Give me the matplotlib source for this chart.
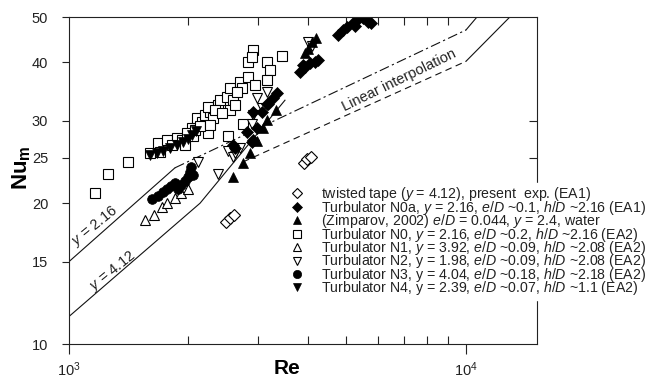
import matplotlib
matplotlib.use("Agg")
import matplotlib.pyplot as plt
import numpy as np
from matplotlib.ticker import FixedLocator, NullLocator, NullFormatter

plt.rcParams['font.family'] = ['Liberation Sans', 'DejaVu Sans']
plt.rcParams['mathtext.fontset'] = 'custom'
plt.rcParams['mathtext.rm'] = 'Liberation Sans'
plt.rcParams['mathtext.it'] = 'Liberation Sans:italic'
plt.rcParams['mathtext.bf'] = 'Liberation Sans:bold'

# twisted tape (open diamond)
tt_re = [2480, 2540, 2600, 3900, 3980, 4060]
tt_nu = [18.2, 18.6, 18.9, 24.4, 24.8, 25.1]

# Turbulator N0a (filled diamond)
n0a_re = [2590, 2621, 2810, 2890, 2908, 2970, 2908, 3060, 3150, 3170, 3260, 3350,
          3822, 3930, 4050, 4160, 4230, 3880,
          4760, 4900, 5030, 5180, 5330, 5500, 5650, 5780, 5250]
n0a_nu = [26.6, 26.3, 28.4, 27.0, 27.3, 29.0, 31.3, 31.3, 32.6, 32.6, 33.5, 34.4,
          38.1, 39.0, 39.8, 40.0, 40.5, 39.5,
          45.7, 46.9, 47.6, 48.5, 49.3, 49.7, 48.8, 48.5, 47.8]

# Zimparov 2002 (filled up-triangle)
zim_re = [2590, 2747, 2859, 2970, 3075, 3150, 3330, 3930, 4000, 4090, 4200]
zim_nu = [22.8, 24.4, 25.6, 27.1, 28.9, 30.1, 31.6, 41.9, 42.8, 44.2, 45.0]

# Turbulator N0 (open square)
n0_re = [1163, 1254, 1410, 1677, 1600, 1766, 1871, 2040, 2053, 2096, 2160, 2240,
         2200, 2267, 2307, 2240, 2375, 2402, 2500, 2546, 2590, 2546, 2698, 2730,
         2826, 2940, 2826, 2908, 2890, 3150, 3211, 3150, 3440, 2517, 2747,
         1696, 1815, 1924, 1982, 2077, 2139, 1962, 2267, 2334, 2430, 2621, 2652]
n0_nu = [21.0, 23.1, 24.5, 26.9, 25.6, 27.3, 27.5, 29.0, 27.9, 30.4, 29.8, 28.2,
         30.9, 31.3, 30.4, 32.1, 32.4, 33.2, 33.7, 35.2, 33.2, 31.6, 36.3, 35.2,
         37.2, 35.8, 40.0, 42.5, 41.1, 40.0, 38.5, 36.7, 41.2, 27.9, 29.6,
         25.7, 26.6, 27.3, 28.2, 28.6, 29.2, 26.6, 29.4, 31.6, 31.2, 32.4, 34.5]

# Turbulator N1 (open up-triangle)
n1_re = [1555, 1640, 1715, 1770, 1850, 1920, 1990]
n1_nu = [18.4, 18.9, 19.6, 20.0, 20.5, 21.0, 21.4]

# Turbulator N2 (open down-triangle)
n2_re = [2118, 2375, 2517, 2590, 2698, 2620, 2908, 2970, 3150, 3060, 2890, 4000, 4100]
n2_nu = [24.5, 23.1, 25.9, 25.1, 26.3, 25.6, 30.8, 33.5, 34.6, 32.0, 29.5, 44.3, 43.4]

# Turbulator N3 (filled circle)
n3_re = [1618, 1677, 1725, 1766, 1808, 1850, 1883, 1915, 1962, 1995, 2018, 2030, 2053]
n3_nu = [20.4, 20.7, 21.1, 21.4, 21.8, 22.1, 21.4, 21.9, 22.3, 22.7, 23.3, 23.9, 23.0]

# Turbulator N4 (filled down-triangle)
n4_re = [1600, 1665, 1725, 1797, 1871, 1937, 1995, 2040, 2087]
n4_nu = [25.3, 25.6, 25.9, 26.3, 26.6, 27.0, 27.4, 28.0, 28.5]

# correlation lines
up_re = [1000, 1849, 10000, 10660]      # y = 2.16
up_nu = [15.0, 23.8, 46.9, 50.0]
lo_re = [1000, 2139, 3500]              # y = 4.12
lo_nu = [11.45, 20.0, 33.2]
lo_int_re = [2743, 10000, 12900]
lo_int_nu = [24.5, 40.2, 50.0]

fig = plt.figure(figsize=(6.51, 3.79), dpi=100)
ax = fig.add_axes([69/651, 1-344/379, (537-69)/651, (344-17)/379])
ax.set_xscale('log')
ax.set_yscale('log')
ax.set_xlim(1000, 15100)
ax.set_ylim(10, 50)

lc = '#111111'
ax.plot(up_re[:2], up_nu[:2], color=lc, lw=0.8)
ax.plot(up_re[1:3], up_nu[1:3], color=lc, lw=0.8, ls=(0, (9, 3, 2, 3)))
ax.plot(up_re[2:], up_nu[2:], color=lc, lw=0.8)
ax.plot(lo_re, lo_nu, color=lc, lw=0.8)
ax.plot(lo_int_re[:2], lo_int_nu[:2], color=lc, lw=0.8, ls=(0, (6, 4)))
ax.plot(lo_int_re[1:], lo_int_nu[1:], color=lc, lw=0.8)

ms = 6.5
kw_open = dict(ls='none', mfc='white', mec='black', mew=0.8)
kw_fill = dict(ls='none', mfc='black', mec='black', mew=0.5)
h_n0, = ax.plot(n0_re, n0_nu, 's', ms=ms, **kw_open)
h_n1, = ax.plot(n1_re, n1_nu, '^', ms=ms, **kw_open)
h_n2, = ax.plot(n2_re, n2_nu, 'v', ms=ms, **kw_open)
h_n4, = ax.plot(n4_re, n4_nu, 'v', ms=ms, **kw_fill)
h_n3, = ax.plot(n3_re, n3_nu, 'o', ms=ms + 0.5, **kw_fill)
h_tt, = ax.plot(tt_re, tt_nu, 'D', ms=ms - 0.5, **kw_open)
h_zim, = ax.plot(zim_re, zim_nu, '^', ms=ms + 0.5, **kw_fill)
h_n0a, = ax.plot(n0a_re, n0a_nu, 'D', ms=ms - 0.5, **kw_fill)

ax.text(1163, 17.9, '$y$ = 2.16', rotation=39, ha='center', va='center',
        rotation_mode='anchor', fontsize=10.5, color='#222222')
ax.text(1291, 14.3, '$y$ = 4.12', rotation=39, ha='center', va='center',
        rotation_mode='anchor', fontsize=10.5, color='#222222')
ax.text(6787, 36.7, 'Linear interpolation', rotation=26, ha='center', va='center',
        rotation_mode='anchor', fontsize=10.5, color='#222222')

# ticks
ax.xaxis.set_major_locator(FixedLocator([1e3, 1e4]))
ax.set_xticklabels(['$10^3$', '$10^4$'])
ax.xaxis.set_minor_locator(FixedLocator([2e3, 3e3, 4e3, 5e3, 6e3, 7e3, 8e3, 9e3]))
ax.xaxis.set_minor_formatter(NullFormatter())
ax.tick_params(axis='x', which='major', direction='out', length=7, width=0.8,
               pad=5, labelsize=10.5, bottom=True, top=False, colors='#222222')
ax.tick_params(axis='x', which='minor', direction='in', length=6, width=0.8,
               bottom=True, top=True, color='#222222')

yt = [10, 15, 20, 25, 30, 40, 50]
ax.yaxis.set_major_locator(FixedLocator(yt))
ax.set_yticklabels([str(v) for v in yt])
ax.yaxis.set_minor_locator(NullLocator())
ax.tick_params(axis='y', which='major', direction='out', length=5, width=0.8,
               pad=10, labelsize=10.5, left=True, right=False, colors='#222222')

sec = ax.secondary_yaxis('right')
sec.yaxis.set_major_locator(FixedLocator([25, 30]))
sec.yaxis.set_major_formatter(NullFormatter())
sec.yaxis.set_minor_locator(NullLocator())
sec.tick_params(direction='in', length=6, width=0.8, color='#222222')
sec.spines['right'].set_visible(False)

for s in ax.spines.values():
    s.set_linewidth(0.8)
    s.set_color('#222222')

fig.text(22/651, 1-168/379, r'$\mathbf{Nu}_\mathbf{m}$', rotation=90,
         ha='center', va='center', fontsize=16)
fig.text(287/651, 1-369/379, 'Re', ha='center', va='center', fontsize=15,
         fontweight='bold')

handles = [h_tt, h_n0a, h_zim, h_n0, h_n1, h_n2, h_n3, h_n4]
labels = [
    'twisted tape ($y$ = 4.12), present  exp. (EA1)',
    'Turbulator N0a, $y$ = 2.16, $e/D$ ~0.1, $h/D$ ~2.16 (EA1)',
    '(Zimparov, 2002) $e/D$ = 0.044, $y$ = 2.4, water',
    'Turbulator N0, $y$ = 2.16, $e/D$ ~0.2, $h/D$ ~2.16 (EA2)',
    'Turbulator N1, $y$ = 3.92, $e/D$ ~0.09, $h/D$ ~2.08 (EA2)',
    'Turbulator N2, y = 1.98, $e/D$ ~0.09, $h/D$ ~2.08 (EA2)',
    'Turbulator N3, y = 4.04, $e/D$ ~0.18, $h/D$ ~2.18 (EA2)',
    'Turbulator N4, y = 2.39, $e/D$ ~0.07, $h/D$ ~1.1 (EA2)',
]
leg = ax.legend(handles, labels, loc='upper left',
                bbox_to_anchor=(288/651, 1-183/379), bbox_transform=fig.transFigure,
                fontsize=10.2, frameon=True, framealpha=1, edgecolor='white',
                fancybox=False, borderpad=0.15, borderaxespad=0,
                labelspacing=-0.32, handlelength=1.0, handletextpad=1.2,
                markerscale=0.85)
for t in leg.get_texts():
    t.set_color('#222222')

fig.savefig('out.png', dpi=100)
